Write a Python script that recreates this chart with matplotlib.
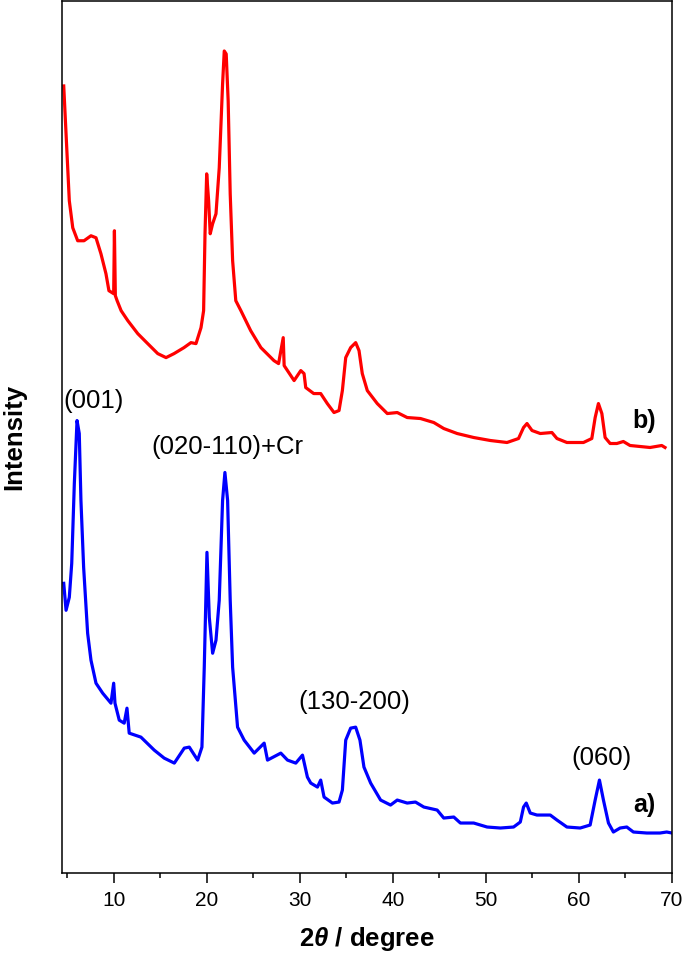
import matplotlib
matplotlib.use("Agg")
import matplotlib.pyplot as plt
from matplotlib.ticker import MultipleLocator

plt.rcParams.update({
    "font.family": ["Liberation Sans", "DejaVu Sans"],
    "mathtext.fontset": "custom",
    "mathtext.it": "Liberation Sans:italic:bold",
    "mathtext.rm": "Liberation Sans:bold",
})

# sample b) (red), 2theta / intensity (a.u.)
two_theta_b = [4.6, 4.85, 5.2, 5.57, 6.1, 6.78, 7.53, 8.07, 8.6, 9.14, 9.46, 9.97,
               10.05, 10.15, 10.34, 10.77, 11.49, 12.56, 13.63, 14.71, 15.6, 16.46,
               17.53, 18.28, 18.82, 19.36, 19.64, 19.79, 19.97, 20.18, 20.35, 20.61,
               20.97, 21.32, 21.68, 21.86, 22.07, 22.28, 22.5, 22.76, 23.1, 23.65,
               24.7, 25.8, 27.2, 27.7, 28.2, 28.3, 29.37, 30.09, 30.44, 30.62, 31.48,
               32.23, 32.94, 33.66, 34.2, 34.56, 34.92, 35.45, 35.99, 36.35, 36.7,
               37.24, 38.31, 39.39, 40.46, 41.53, 42.96, 44.39, 45.46, 46.9, 48.68,
               50.47, 52.26, 53.5, 54.04, 54.41, 54.95, 55.84, 57.09, 57.63, 58.7,
               60.48, 61.38, 61.74, 62.09, 62.46, 62.81, 63.35, 64.07, 64.77, 65.49,
               67.64, 68.9, 69.25]
intensity_b = [788, 740, 673, 646, 633, 633, 638, 636, 620, 600, 583, 580,
               643, 578, 573, 563, 553, 540, 530, 520, 516, 520,
               526, 531, 530, 546, 563, 640, 700, 673, 640, 650,
               660, 706, 790, 823, 820, 773, 680, 613, 573, 563,
               543, 526, 513, 510, 536, 508, 493, 503, 500, 486, 480,
               480, 470, 461, 463, 483, 516, 526, 531, 523, 500,
               483, 470, 460, 461, 456, 455, 451, 445, 440, 436,
               433, 431, 435, 446, 450, 443, 440, 441, 435, 431,
               431, 435, 456, 470, 460, 436, 430, 430, 432, 428,
               426, 428, 426]

# sample a) (blue)
two_theta_a = [4.6, 4.85, 5.2, 5.46, 5.74, 6.03, 6.27, 6.45, 6.74, 7.17, 7.53, 8.07,
               8.79, 9.68, 9.97, 10.11, 10.57, 11.1, 11.4, 11.64, 12.9, 14.33, 15.4,
               16.49, 17.56, 18.1, 19.0, 19.46, 19.71, 20.0, 20.25, 20.61, 20.97,
               21.32, 21.68, 21.93, 22.22, 22.5, 22.76, 23.29, 24.0, 25.08, 26.15,
               26.51, 27.94, 28.66, 29.55, 30.27, 30.8, 31.16, 31.88, 32.23, 32.59,
               33.49, 34.2, 34.56, 34.92, 35.45, 35.99, 36.45, 36.88, 37.6, 38.67,
               39.74, 40.46, 41.53, 42.42, 43.32, 44.75, 45.46, 46.54, 47.25, 48.68,
               50.12, 51.55, 52.97, 53.69, 54.04, 54.33, 54.76, 55.48, 56.91, 57.63,
               58.7, 60.13, 61.2, 61.74, 62.2, 62.63, 63.17, 63.7, 64.42, 65.14,
               65.85, 67.29, 68.71, 69.43, 70.0]
intensity_a = [290, 263, 276, 310, 390, 453, 440, 373, 306, 240, 213, 190,
               180, 170, 190, 170, 153, 150, 165, 140, 136, 123, 115,
               110, 125, 126, 113, 126, 206, 321, 256, 220, 233,
               273, 373, 401, 373, 273, 206, 146, 133, 120, 130,
               113, 120, 113, 110, 118, 96, 90, 86, 93, 76,
               70, 71, 83, 133, 145, 146, 133, 106, 90, 73,
               68, 73, 70, 71, 66, 63, 55, 56, 50, 50,
               46, 45, 46, 51, 66, 70, 60, 58, 58, 53,
               46, 45, 48, 73, 93, 73, 50, 41, 45, 46,
               41, 40, 40, 41, 40]

peak_labels = ["(001)", "(020-110)+Cr", "(130-200)", "(060)"]
peak_label_x = [4.6, 22.15, 35.8, 62.4]
peak_label_y = [473, 426, 171, 115]

fig = plt.figure(figsize=(6.85, 9.55), dpi=100)
ax = fig.add_axes([0.091, 0.0859, 0.890, 0.913])

ax.plot(two_theta_b, intensity_b, color="#ff0000", lw=2.3, solid_joinstyle="round")
ax.plot(two_theta_a, intensity_a, color="#0000ff", lw=2.3, solid_joinstyle="round")

for i, lab in enumerate(peak_labels):
    ha = "left" if i == 0 else "center"
    ax.text(peak_label_x[i], peak_label_y[i], lab, ha=ha, va="center", fontsize=18.5)

ax.text(67.0, 453, "b)", ha="center", va="center", fontsize=18, fontweight="bold")
ax.text(67.0, 68, "a)", ha="center", va="center", fontsize=18, fontweight="bold")

ax.set_xlim(4.45, 70)
ax.set_ylim(0, 873)
ax.xaxis.set_major_locator(MultipleLocator(10))
ax.xaxis.set_minor_locator(MultipleLocator(5))
ax.set_yticks([])
ax.tick_params(axis="x", which="major", direction="out", length=7, width=1.1,
               labelsize=15, pad=6)
ax.tick_params(axis="x", which="minor", direction="out", length=3.5, width=1.1)
for sp in ax.spines.values():
    sp.set_linewidth(1.1)

ax.set_xlabel(r"2$\theta$ / degree", fontsize=18.5, fontweight="bold", labelpad=11)
ax.set_ylabel("Intensity", fontsize=18.5, fontweight="bold", labelpad=26)

fig.savefig("out.png", dpi=100)
